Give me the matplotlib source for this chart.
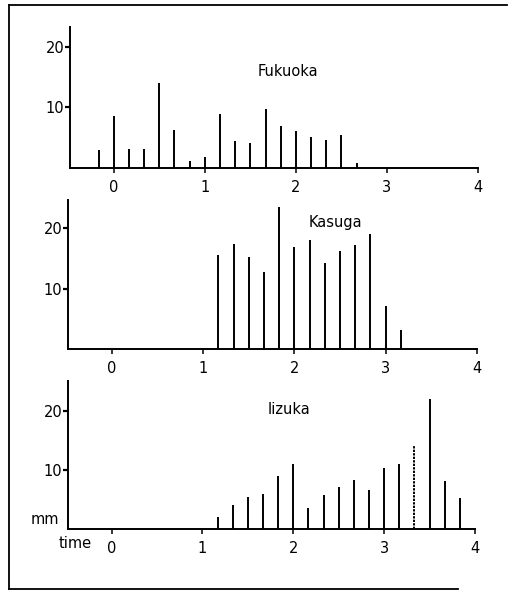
import matplotlib
matplotlib.use("Agg")
import matplotlib.pyplot as plt
from matplotlib.lines import Line2D

# Rainfall per 10 minutes (mm), time in minutes from hour 0
fukuoka_minutes = [-10, 0, 10, 20, 30, 40, 50, 60, 70, 80, 90, 100, 110, 120, 130, 140, 150, 160]
fukuoka_mm = [3.0, 8.6, 3.2, 3.1, 14.1, 6.2, 1.2, 1.8, 9.0, 4.5, 4.1, 9.8, 6.9, 6.1, 5.1, 4.7, 5.5, 0.9]

kasuga_minutes = [70, 80, 90, 100, 110, 120, 130, 140, 150, 160, 170, 180, 190]
kasuga_mm = [15.5, 17.4, 15.2, 12.8, 23.5, 16.9, 18.1, 14.3, 16.3, 17.2, 19.1, 7.2, 3.2]

iizuka_minutes = [70, 80, 90, 100, 110, 120, 130, 140, 150, 160, 170, 180, 190, 200, 210, 220, 230]
iizuka_mm = [2.0, 4.0, 5.4, 6.0, 9.0, 11.0, 3.5, 5.8, 7.1, 8.3, 6.6, 10.3, 11.0, 14.0, 22.1, 8.2, 5.3]
# the 200-minute bar at Iizuka is drawn dotted in the original
iizuka_dotted = [200]

x_ticks = [0, 1, 2, 3, 4]
y_ticks = [10, 20]

W, H = 509, 594
FONT = 10.5
LW = 1.4

fig = plt.figure(figsize=(W / 100, H / 100), dpi=100)


def make_axes(left, right, bottom, top, ytop):
    # pixel box -> figure fraction
    ax = fig.add_axes([left / W, 1 - bottom / H, (right - left) / W, (bottom - top) / H])
    ax.set_xlim(-0.48, 4.0)
    ax.set_ylim(0, ytop)
    for side in ["top", "right"]:
        ax.spines[side].set_visible(False)
    for side in ["left", "bottom"]:
        ax.spines[side].set_linewidth(LW)
    ax.set_xticks(x_ticks)
    ax.set_yticks(y_ticks)
    ax.tick_params(axis="x", direction="out", length=3.5, width=1.1, pad=5, labelsize=FONT)
    ax.tick_params(axis="y", direction="out", length=3.5, width=1.6, pad=0.5, labelsize=FONT)
    ax.patch.set_alpha(0)
    return ax


# Fukuoka
ax1 = make_axes(70, 478, 168, 27, 23.3)
ax1.vlines([m / 60 for m in fukuoka_minutes], 0, fukuoka_mm, colors="black", linewidth=LW)

# Kasuga
ax2 = make_axes(68, 477, 349, 200, 24.7)
ax2.vlines([m / 60 for m in kasuga_minutes], 0, kasuga_mm, colors="black", linewidth=LW)

# Iizuka
ax3 = make_axes(68, 475, 529, 381, 25.1)
solid_t = [m / 60 for m in iizuka_minutes if m not in iizuka_dotted]
solid_v = [v for m, v in zip(iizuka_minutes, iizuka_mm) if m not in iizuka_dotted]
dot_t = [m / 60 for m in iizuka_minutes if m in iizuka_dotted]
dot_v = [v for m, v in zip(iizuka_minutes, iizuka_mm) if m in iizuka_dotted]
ax3.vlines(solid_t, 0, solid_v, colors="black", linewidth=LW)
ax3.vlines(dot_t, 0, dot_v, colors="black", linewidth=LW, linestyles=(0, (1.2, 0.6)))

# panel names and axis words, placed in figure pixels
for x, y, s in [(288, 72, "Fukuoka"), (335, 223, "Kasuga"), (289, 409, "Iizuka"),
                (45, 520, "mm"), (75, 544, "time")]:
    fig.text(x / W, 1 - y / H, s, fontsize=FONT, ha="center", va="center")

# outer frame (right side runs off the page)
fl, ft, fb = 9 / W, 1 - 5 / H, 1 - 589 / H
fig.add_artist(Line2D([fl, fl], [fb, ft], color="black", linewidth=1.3))
fig.add_artist(Line2D([fl, 0.997], [ft, ft], color="black", linewidth=1.3))
fig.add_artist(Line2D([fl, 0.9], [fb, fb], color="black", linewidth=1.3))

fig.savefig("out.png", dpi=100)
